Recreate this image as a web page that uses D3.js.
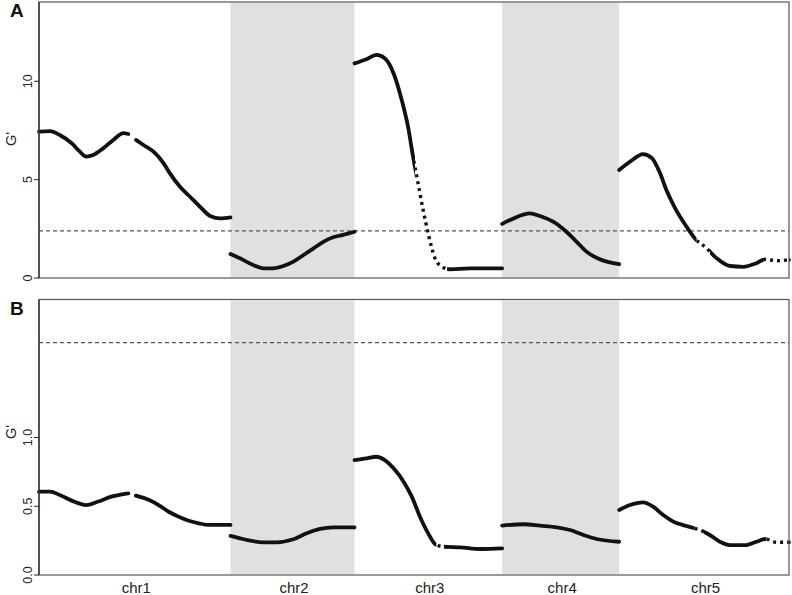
<!DOCTYPE html>
<meta charset="utf-8" />
<style>
  body {
    margin: 0;
    font-family: "Liberation Sans", Arial, "Helvetica Neue";
    background: #fff;
  }
  .tick-label {
    font-size: 12.5px;
    fill: #222;
  }
  .chr-label {
    font-size: 15px;
    fill: #222;
  }
</style>
<body>
  <div class="container"></div>

  <script src="https://d3js.org/d3.v7.min.js"></script>
  <script>
    // Arabidopsis chromosomes (Mb)
    const chromNames = ["chr1", "chr2", "chr3", "chr4", "chr5"];
    const chromLengths = [30.43, 19.7, 23.46, 18.59, 26.98];
    const shadedChroms = ["chr2", "chr4"];

    const ticksA = [0, 5, 10];
    const tickLabelsA = ["0", "5", "10"];
    const ticksB = [0, 0.5, 1.0];
    const tickLabelsB = ["0.0", "0.5", "1.0"];
    const thresholdA = 2.4;
    const thresholdB = 1.69;

    // [position within chromosome (Mb), G'] ; null = gap in the markers
    const chr1A = [[0, 7.44], [1.75, 7.47], [3.3, 7.27], [5.2, 6.85], [6.5, 6.42], [7.5, 6.17], [8.6, 6.25],
      [10.2, 6.59], [11.8, 7.02], [13.4, 7.36], [14.2, 7.32], [14.8, null], [15.4, 7.02], [16.6, 6.76],
      [18.2, 6.42], [19.8, 5.83], [20.8, 5.32], [22.4, 4.64], [24.0, 4.13], [25.6, 3.62], [27.2, 3.15],
      [28.8, 3.03], [30.43, 3.08]];
    const chr2A = [[0, 1.22], [1.5, 1.0], [3.6, 0.66], [5.2, 0.49], [6.8, 0.49], [8.4, 0.61], [10.0, 0.83],
      [11.6, 1.17], [13.2, 1.51], [14.8, 1.85], [16.3, 2.07], [17.9, 2.19], [19.7, 2.35]];
    const chr3A = [[0, 10.91], [1.9, 11.12], [3.5, 11.34], [4.8, 11.17], [6.2, 10.41], [7.5, 9.05], [8.5, 7.69],
      [9.3, 6.17], [10.1, 4.81], [10.9, 3.46], [11.7, 2.27], [12.8, 1.0], [13.9, 0.57], [15.2, 0.44],
      [18.3, 0.49], [23.46, 0.49]];
    const chr4A = [[0, 2.75], [1.8, 3.03], [4.4, 3.29], [6.0, 3.15], [8.1, 2.86], [10.2, 2.35], [11.8, 1.85],
      [13.4, 1.34], [15.5, 0.95], [18.59, 0.7]];
    const chr5A = [[0, 5.49], [1.7, 5.91], [3.8, 6.3], [5.2, 6.09], [6.5, 5.32], [7.5, 4.47], [8.9, 3.54],
      [10.7, 2.61], [12.0, 2.02], [13.9, 1.51], [15.5, 1.0], [17.6, 0.61], [19.7, 0.57], [21.8, 0.75],
      [23.2, 0.95], [25.0, 0.88], [26.98, 0.92]];

    const chr1B = [[0, 0.606], [1.75, 0.606], [3.3, 0.582], [5.2, 0.541], [7.5, 0.509], [9.3, 0.533],
      [11.5, 0.57], [14.2, 0.594], [14.8, null], [15.4, 0.577], [17.5, 0.545], [19.0, 0.509], [20.6, 0.46],
      [22.2, 0.424], [23.8, 0.395], [25.4, 0.376], [27.0, 0.364], [30.43, 0.364]];
    const chr2B = [[0, 0.284], [2.1, 0.26], [5.2, 0.238], [7.3, 0.238], [10.0, 0.26], [12.1, 0.303],
      [14.2, 0.335], [16.3, 0.347], [19.7, 0.347]];
    const chr3B = [[0, 0.836], [1.9, 0.848], [3.5, 0.86], [4.8, 0.836], [6.2, 0.776], [7.8, 0.679],
      [9.1, 0.57], [10.4, 0.424], [11.7, 0.303], [12.8, 0.225], [14.1, 0.206], [16.8, 0.201],
      [20.0, 0.189], [23.46, 0.194]];
    const chr4B = [[0, 0.359], [3.4, 0.369], [6.0, 0.359], [8.7, 0.347], [10.8, 0.327], [12.9, 0.291],
      [15.0, 0.262], [18.59, 0.242]];
    const chr5B = [[0, 0.473], [1.7, 0.509], [3.8, 0.529], [5.4, 0.497], [7.0, 0.436], [8.6, 0.388],
      [10.7, 0.356], [12.8, 0.327], [14.4, 0.291], [16.0, 0.242], [17.6, 0.218], [20.2, 0.218],
      [21.8, 0.242], [23.2, 0.262], [25.0, 0.238], [26.98, 0.238]];

    // regions where markers are sparse (drawn dotted): [chrom, from, to]
    const sparseA = [["chr3", 9.6, 15.5], ["chr5", 12.3, 15.2], ["chr5", 23.0, 26.98]];
    const sparseB = [["chr5", 12.0, 14.2], ["chr5", 23.4, 26.98], ["chr3", 13.0, 15.0]];

    const seriesA = [chr1A, chr2A, chr3A, chr4A, chr5A];
    const seriesB = [chr1B, chr2B, chr3B, chr4B, chr5B];

    // layout
    const W = 792, H = 595;
    const left = 39, right = 789;

    const offsets = chromLengths.map((_, i) => d3.sum(chromLengths.slice(0, i)));
    const total = d3.sum(chromLengths);

    const x = d3.scaleLinear().domain([0, total]).range([left, right]);

    const svg = d3
      .select(".container")
      .append("svg")
      .attr("width", W)
      .attr("height", H);

    function drawPanel(opts) {
      const y = d3.scaleLinear().domain(opts.ydomain).range([opts.bottom, opts.top]);
      const g = svg.append("g");
      const id = opts.letter;

      // shaded chromosomes
      chromNames.forEach(function (c, i) {
        if (shadedChroms.indexOf(c) < 0) return;
        g.append("rect")
          .attr("x", x(offsets[i]))
          .attr("y", opts.top + 1)
          .attr("width", x(offsets[i] + chromLengths[i]) - x(offsets[i]))
          .attr("height", opts.bottom - opts.top - 2)
          .attr("fill", "#e0e0e0");
      });

      // threshold
      g.append("line")
        .attr("x1", left)
        .attr("x2", right)
        .attr("y1", y(opts.threshold))
        .attr("y2", y(opts.threshold))
        .attr("stroke", "#555")
        .attr("stroke-width", 1.2)
        .attr("stroke-dasharray", "4,3");

      // clip paths for solid / sparse parts
      const defs = svg.append("defs");
      const clipSparse = defs.append("clipPath").attr("id", "sparse" + id);
      const clipSolid = defs.append("clipPath").attr("id", "solid" + id);
      let solidStart = left;
      const ranges = opts.sparse
        .map(function (s) {
          const i = chromNames.indexOf(s[0]);
          return [x(offsets[i] + s[1]), x(offsets[i] + s[2])];
        })
        .sort((a, b) => a[0] - b[0]);
      ranges.forEach(function (r) {
        clipSparse.append("rect").attr("x", r[0]).attr("y", 0).attr("width", r[1] - r[0]).attr("height", H);
        clipSolid.append("rect").attr("x", solidStart - 5).attr("y", 0).attr("width", r[0] - solidStart + 5).attr("height", H);
        solidStart = r[1];
      });
      clipSolid.append("rect").attr("x", solidStart).attr("y", 0).attr("width", W - solidStart).attr("height", H);

      const line = d3
        .line()
        .defined((d) => d[1] != null)
        .x((d) => d[0])
        .y((d) => y(d[1]))
        .curve(d3.curveMonotoneX);

      opts.series.forEach(function (s, i) {
        const pts = s.map((d) => [x(offsets[i] + d[0]), d[1]]);
        g.append("path")
          .attr("d", line(pts))
          .attr("fill", "none")
          .attr("stroke", "#111")
          .attr("stroke-width", 3.8)
          .attr("stroke-linecap", "round")
          .attr("clip-path", "url(#solid" + id + ")");
        g.append("path")
          .attr("d", line(pts))
          .attr("fill", "none")
          .attr("stroke", "#111")
          .attr("stroke-width", 3.4)
          .attr("stroke-dasharray", "3,4")
          .attr("clip-path", "url(#sparse" + id + ")");
      });

      // box
      g.append("rect")
        .attr("x", left)
        .attr("y", opts.top)
        .attr("width", right - left)
        .attr("height", opts.bottom - opts.top)
        .attr("fill", "none")
        .attr("stroke", "#555")
        .attr("stroke-width", 1.2);

      // y axis
      const yAxis = g.append("g");
      yAxis
        .append("line")
        .attr("x1", left)
        .attr("x2", left)
        .attr("y1", opts.top)
        .attr("y2", opts.bottom)
        .attr("stroke", "#222")
        .attr("stroke-width", 1.2);
      opts.ticks.forEach(function (t, k) {
        yAxis
          .append("line")
          .attr("x1", left - 5)
          .attr("x2", left)
          .attr("y1", y(t))
          .attr("y2", y(t))
          .attr("stroke", "#222");
        yAxis
          .append("text")
          .attr("class", "tick-label")
          .attr("text-anchor", "middle")
          .attr("transform", "translate(31.5," + y(t) + ") rotate(-90)")
          .text(opts.tickLabels[k]);
      });

      g.append("text")
        .attr("text-anchor", "middle")
        .attr("transform", "translate(15.5," + opts.labelY + ") rotate(-90)")
        .style("font-size", "14.5px")
        .attr("fill", "#222")
        .text("G'");

      g.append("text")
        .attr("x", 10)
        .attr("y", opts.top + 15)
        .style("font-size", "19px")
        .style("font-weight", "bold")
        .attr("fill", "#111")
        .text(opts.letter);

      return y;
    }

    drawPanel({
      letter: "A",
      top: 2,
      bottom: 278,
      ydomain: [0, 14.03],
      ticks: ticksA,
      tickLabels: tickLabelsA,
      threshold: thresholdA,
      series: seriesA,
      sparse: sparseA,
      labelY: 139
    });

    drawPanel({
      letter: "B",
      top: 299.5,
      bottom: 575,
      ydomain: [0, 2.004],
      ticks: ticksB,
      tickLabels: tickLabelsB,
      threshold: thresholdB,
      series: seriesB,
      sparse: sparseB,
      labelY: 432
    });

    // chromosome labels
    svg
      .selectAll(".chr-label")
      .data(chromNames)
      .enter()
      .append("text")
      .attr("class", "chr-label")
      .attr("text-anchor", "middle")
      .attr("x", (d, i) => x(offsets[i] + chromLengths[i] / 2) + 1.5)
      .attr("y", 593)
      .text((d) => d);
  </script>
</body>
